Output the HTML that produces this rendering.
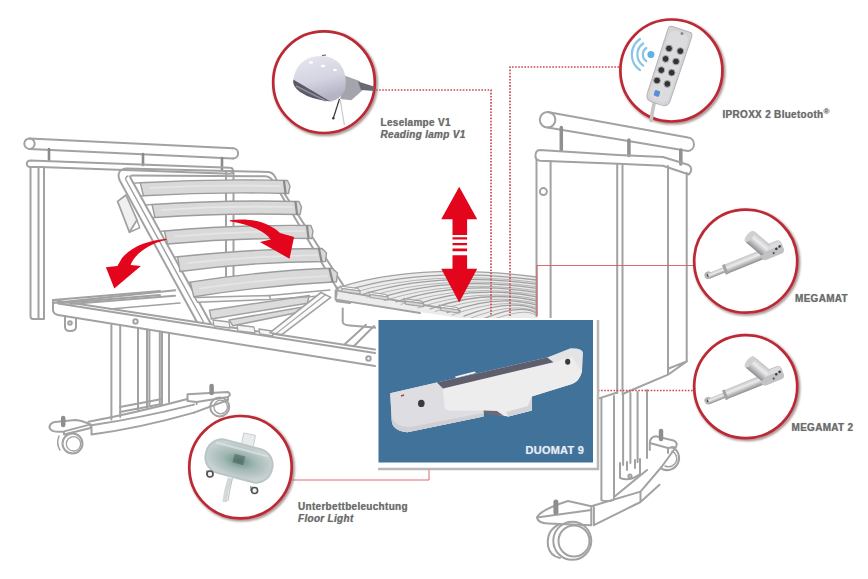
<!DOCTYPE html>
<html><head><meta charset="utf-8">
<style>
html,body{margin:0;padding:0;background:#fff;width:868px;height:579px;overflow:hidden}
svg{position:absolute;left:0;top:0}
.lbl{position:absolute;font-family:"Liberation Sans",sans-serif;font-weight:bold;font-size:10px;letter-spacing:0.3px;color:#6c6c6c;white-space:nowrap;line-height:12px;text-shadow:0 0 0.8px rgba(90,90,90,0.6)}
.it{font-style:italic}
</style></head><body>
<svg width="868" height="579" viewBox="0 0 868 579">
<defs>
<filter id="blur2" x="-20%" y="-20%" width="140%" height="140%"><feGaussianBlur stdDeviation="0.9"/></filter>
<filter id="blur" x="-20%" y="-20%" width="140%" height="140%"><feGaussianBlur stdDeviation="0.45"/></filter>
</defs>
<g id="bed" fill="none" stroke="#a2a2a2" stroke-width="2" filter="url(#blur)" stroke-linejoin="round" stroke-linecap="round">
<!-- HEADBOARD -->
<path d="M29.5 138.5 L233 148.3 M29.5 149 L233 158.5"/>
<circle cx="29.5" cy="143.7" r="5.2"/>
<path d="M233 148.3 A5.1 5.1 0 0 1 233 158.5"/>
<path d="M49 149 V160 M143 154 V165 M222 158 V169" stroke-width="2.6" stroke="#8a8a8a"/>
<path d="M30 160.5 L230 167.8 A3 3 0 0 1 230 173.8 L40 167 M30 160.5 A3.2 3.2 0 0 0 30 167 L40 167"/>
<path d="M30.5 167 V316 Q30.5 319 33 319 H44 V167 M38.5 167 V319"/>
<path d="M226 172 V288 M233.5 172 V288"/>
<!-- bracket left of backrest -->
<path d="M117.6 201.4 L126 195 L137 220 L129.4 232.3 Z" fill="#f0f0f0" stroke-width="1.8"/><path d="M129.4 232.3 L139.7 227.8 L137 220" stroke-width="1.5"/>
<!-- BED FRAME front rail -->
<path d="M53 300 L375 349.5 M58 315 L375 366 M53 300 L53 311 Q54 314 58 315 M58 303.5 L375 353"/>
<circle cx="135.5" cy="321.4" r="2.2"/>
<circle cx="368.5" cy="358.5" r="2.2"/>
<!-- head cross rail (receding) -->
<path d="M53 300 L160 291 M62 303 L160 295"/>
<!-- bracket under frame -->
<path d="M65 316 V327 Q65 331 70 331 Q76 331 76 327 V318"/>
<circle cx="70" cy="323" r="1.8"/>
<!-- LEGS -->
<path d="M111.4 324 V419.5 M120.2 325.5 V417 M138 328 V410 M147 329.5 V408 M149.4 330 V405 M159.8 331.5 V404 M162 332 V403 M169 333 V402"/>
<path d="M120 407 L162 399 M120 412 L162 404"/>
<!-- BASE -->
<path d="M91.5 425.3 Q140 418 194 404.6 M91.5 434.5 Q140 428 194 412.6 M91.5 425.3 V434.5 M88.4 421.8 Q135 413 187.5 399"/>
<path d="M49.4 427 Q50 423 55 422 L75 420 Q80 420 90.6 424.4 L64 431.4 Q50 433 49.4 427 Z M64 431.4 V434.5 L90.6 428 V424.4"/>
<path d="M187.5 394.2 L227.8 392 Q232 394 228 397 L196.7 402 L187.5 401 Z M196.7 402 V404 M228 397 V400 L194 412.6"/>
<circle cx="72.5" cy="443.5" r="10"/>
<circle cx="73.5" cy="443.8" r="7.2" stroke-width="1.3"/>
<path d="M59 436 Q56 444 60 450" stroke-width="1.5"/>
<circle cx="219.7" cy="406.9" r="9.5"/>
<circle cx="220.7" cy="407" r="6.8" stroke-width="1.3"/>
<path d="M63.2 418 V425 M211.6 386 V393" stroke-width="4.5" stroke="#8e8e8e" stroke-linecap="round"/>
<!-- BACKREST frame -->
<path d="M197 322 L119.5 180 Q116 170 126 168.5 L268.9 172 Q275 173 277 182 L345 288"/>
<path d="M211 324 L130.6 178 Q129 175.5 133 175.5 L265.8 176.3 Q271 177 273.5 182 L338 290"/>
<path d="M203.5 322 L126 180 Q125 177 128 176" stroke-width="1.5"/>
<!-- slat holders left -->
<g stroke-width="1.4">
<path d="M133.2 183.3 L140.3 182.8 M140.3 195.7 L143.4 195.7"/>
<path d="M145.2 205.0 L152.0 204.5 M152.4 217.5 L155.0 217.5"/>
<path d="M159.8 231.5 L164.4 231.0 M166.9 244.0 L167.5 244.0"/>
<path d="M174.0 257.3 L177.6 256.8 M182.1 271.5 L180.0 271.5"/>
<path d="M187.9 282.6 L190.3 282.1 M196.0 296.8 L193.8 296.8"/>
</g>
<!-- slats -->
<g fill="#d9d9d9" stroke="#9c9c9c" stroke-width="1.4">
<path d="M140.3 182.8 Q215 178.5 287.5 180.5 L290 186 L288.5 193.5 Q215 191.5 143.4 195.7 Z"/>
<path d="M152 204.5 Q225 199.5 299 201.5 L301.5 207 L300 214.5 Q225 212.5 155 217.5 Z"/>
<path d="M164.4 231 Q240 224.5 310.8 225.5 L313 231 L311.8 238.5 Q240 237.5 167.5 244 Z"/>
<path d="M177.6 256.8 Q255 248.5 322 248.5 L326.5 253 L325.5 261.5 Q255 261.5 180 271.5 Z"/>
<path d="M190.3 282.1 Q265 270.5 332 268.3 L337.5 273 L336.5 281.8 Q265 285.5 193.8 296.8 Z"/>
</g>
<path d="M284 181 L285.5 193 M295.5 202 L297 214 M307 226 L308.5 238 M319 249 L321.5 261 M329.5 269 L332.5 281.5" stroke="#8a8a8a" stroke-width="2.2"/>
<path d="M150 188 Q215 184.5 280 186 M162 210 Q225 205.5 292 207 M175 236.5 Q240 231 304 231 M188 263 Q255 256 317 255 M200 288.5 Q265 279 327 276" stroke="#e6e6e6" stroke-width="1.6"/>
<!-- SEAT area -->
<path d="M53 303 L175.3 290.3 M70.3 304 L175 295.8"/>
<path d="M110 309 L180 303" stroke-width="1.6"/>
<path d="M194.7 297.4 L270 295.5 L270 299.4 L197.6 302.3 Z" fill="#fafafa" stroke-width="1.5"/>
<g fill="#dcdcdc" stroke-width="1.5">
<path d="M209.4 310.2 L309.3 295.5 L307.3 303.3 L211.3 319 Z"/>
<path d="M229 320 L301.4 307.2 L300 312 L232.9 325.8 Z"/>
</g>
<path d="M270 295.5 L330 290 M270 299.4 L320 296" stroke-width="1.4"/>
<g fill="#f6f6f6" stroke-width="1.3">
<path d="M213 320 L229 322 L230 328 L214 326 Z M237 325 L254 327 L255 333 L238 331 Z M259 329 L272 331 L273 336 L260 334 Z"/>
</g>
<!-- knee hinge bars -->
<path d="M321 292.5 L270 332.7 L281.8 334.6 L330.8 297.4 Z" fill="#fbfbfb" stroke-width="1.6"/>
<path d="M325.5 294.8 L276 333.6" stroke-width="1.2"/>
<path d="M366 324.7 L345 344 M374 326 L354 346"/>
<path d="M336.7 287.6 L350 289 M336.7 287.6 V301.3 L350 303"/>
<!-- leg section box under -->
<path d="M342.7 308.5 V322 Q343 325 350 325.5 L380 328" fill="none"/>
<!-- LEG SECTION front beam and slats -->
<path d="M340 287 Q420 262 537 277 L537 318 L460 318 L336 299.7 Z" fill="#ececec" stroke="none"/>
<path d="M340 287 Q420 262 537 277" stroke-width="1.3"/>
<path d="M345.0 291.0 Q425.0 266.0 537 280.0" stroke-width="1.3" stroke="#a0a0a0"/>
<path d="M350.0 293.5 Q430.0 269.0 537 282.4" stroke-width="1" stroke="#b4b4b4"/>
<path d="M362.0 294.6 Q437.0 270.6 537 284.2" stroke-width="1.3" stroke="#a0a0a0"/>
<path d="M367.0 297.1 Q442.0 273.6 537 286.6" stroke-width="1" stroke="#b4b4b4"/>
<path d="M379.0 298.2 Q449.0 275.2 537 288.4" stroke-width="1.3" stroke="#a0a0a0"/>
<path d="M384.0 300.7 Q454.0 278.2 537 290.8" stroke-width="1" stroke="#b4b4b4"/>
<path d="M396.0 301.8 Q461.0 279.8 537 292.6" stroke-width="1.3" stroke="#a0a0a0"/>
<path d="M401.0 304.3 Q466.0 282.8 537 295.0" stroke-width="1" stroke="#b4b4b4"/>
<path d="M413.0 305.4 Q473.0 284.4 537 296.8" stroke-width="1.3" stroke="#a0a0a0"/>
<path d="M418.0 307.9 Q478.0 287.4 537 299.2" stroke-width="1" stroke="#b4b4b4"/>
<path d="M430.0 309.0 Q485.0 289.0 537 301.0" stroke-width="1.3" stroke="#a0a0a0"/>
<path d="M435.0 311.5 Q490.0 292.0 537 303.4" stroke-width="1" stroke="#b4b4b4"/>
<path d="M447.0 312.6 Q497.0 293.6 537 305.2" stroke-width="1.3" stroke="#a0a0a0"/>
<path d="M452.0 315.1 Q502.0 296.6 537 307.6" stroke-width="1" stroke="#b4b4b4"/>
<path d="M464.0 316.2 Q509.0 298.2 537 309.4" stroke-width="1.3" stroke="#a0a0a0"/>
<path d="M469.0 318.7 Q514.0 301.2 537 311.8" stroke-width="1" stroke="#b4b4b4"/>
<path d="M481.0 319.8 Q521.0 302.8 537 313.6" stroke-width="1.3" stroke="#a0a0a0"/>
<path d="M486.0 322.3 Q526.0 305.8 537 316.0" stroke-width="1" stroke="#b4b4b4"/>
<path d="M335.5 290.4 L460 311 M336.3 299.7 L420 313 M335.5 290.4 V299.7" stroke-width="1.8"/>
<g stroke-width="1.2">
<path d="M340 286 L358 288.5 L360 291 L342 288.5 Z" fill="#fafafa"/>
<path d="M342 288.5 L360 291 L360 294 L342 291.5 Z" fill="#d8d8d8"/>
<path d="M368 292 L386 294.5 L388 297 L370 294.5 Z" fill="#fafafa"/>
<path d="M370 294.5 L388 297 L388 300 L370 297.5 Z" fill="#d8d8d8"/>
<path d="M403.5 298.6 L421.5 301.1 L423.5 303.6 L405.5 301.1 Z" fill="#fafafa"/>
<path d="M405.5 301.1 L423.5 303.6 L423.5 306.6 L405.5 304.1 Z" fill="#d8d8d8"/>
<path d="M439 305 L457 307.5 L459 310 L441 307.5 Z" fill="#fafafa"/>
<path d="M441 307.5 L459 310 L459 313 L441 310.5 Z" fill="#d8d8d8"/>
</g>
<!-- FOOTBOARD top tube -->
<path d="M547.6 112 L688 137.5 A6.8 6.8 0 0 1 688 151 L547.6 127.5"/>
<circle cx="547.6" cy="119.7" r="7.8"/>
<path d="M561.3 127.5 V150 M628.9 140 V155.5 M680.8 150 V164" stroke-width="3.5" stroke="#909090"/>
<!-- lower rail -->
<path d="M540 150 L618 155 L663 157 L688 164.7 Q694 168 689 174.5 L663 165.7 L618 163.8 L540 160.8 Q535 160 535.5 155 Q536 150 540 150"/>
<!-- panel verticals -->
<path d="M536.5 160.5 V316 M550.6 161 V398 M617.2 164 V393 M622.5 164 V392 M668 166 V374 M686.7 173 V361"/>
<path d="M598.3 398.6 L617.2 392.5 M622.5 394 L668 374.7 L686.7 361.4 M668 368.7 L686.7 361.4"/>
<circle cx="543.4" cy="191.6" r="3.5"/>
<!-- columns -->
<path d="M601.4 398 V500 Q602 501 608 501 Q614 501 614 498 V396 M623.1 394 V465 M630.4 393 V463 M637.6 392 V462 M647 390 V458"/>
<!-- bracket -->
<path d="M620 463 V478 Q630 482 640 474 V459 M627 462 V470 M635 460 V468"/>
<circle cx="630" cy="476" r="1.6"/>
<!-- base beam -->
<path d="M591.3 506.3 L640.5 491.6 L661.5 467 M593.9 525.2 L640.5 502 L659.5 484.7 M593.9 506 V525.2 M640.5 491.6 V502 M614 497 L647 470"/>
<!-- front pad -->
<path d="M536.9 517.5 Q540 510 568 501 L591.3 506.3 V525.2 M536.9 517.5 Q538 523 548 523.5 L591.3 525.2 M536.9 517.5 L591.3 510"/>
<path d="M555.9 502 V512.3" stroke-width="5" stroke="#8e8e8e"/>
<circle cx="572.3" cy="540.8" r="19"/>
<circle cx="574" cy="541" r="15.5"/>
<path d="M560 524 Q546 530 548 546 Q550 556 560 558"/>
<!-- back pad -->
<path d="M672 447 A12 12 0 1 1 662 469" />
<path d="M672 451 A8 8 0 1 1 665 466" stroke-width="1.5"/>
<path d="M649.8 450 L649.8 443 Q650 437 656 436.3 L674.4 440.8 Q678 443 676 447 L661.5 467 M649.8 443 L668 448 L676 447 M668 448 L668 453"/>
<path d="M661 431 V439" stroke-width="4.5" stroke="#8e8e8e" stroke-linecap="round"/>

</g>
<!-- connector lines -->
<g fill="none" stroke="#c94a52" stroke-width="1.7">
<path d="M376 90 H491 V316" stroke-dasharray="1.6 1.5"/>
<path d="M619 67 H510 V316" stroke-dasharray="1.6 1.5"/>
<path d="M694 265.5 H537 V316" stroke-width="0.9" stroke="#d9585d"/>
<path d="M598 390.5 H694" stroke-dasharray="1.6 1.5"/>
<path d="M292 480 H429 V468" stroke-width="0.9" stroke="#d9585d"/>
</g>
<g fill="#e3051b" stroke="none">
<path d="M166.5 238.8 C150 240 132 246 122 258 L117.4 266.1 L105.9 267.3 L114.3 288.4 L140.9 266.1 L130.6 264.9 C134 256 145 245 166.5 239.8 Z"/>
<path d="M229.9 220.3 C250 217.5 268 222 280 233 L294.1 237 L289.5 258.7 L259.9 242.1 L270.8 239.6 C265 232 252 225 229.9 221.2 Z"/>
<path d="M459.2 186.7 L477.2 219.3 H467.1 V235 H452.5 V219.3 H441.2 Z"/>
<path d="M452.5 237.3 H467.1 V239.6 H452.5 Z M452.5 242.9 H467.1 V245.2 H452.5 Z M452.5 248.5 H467.1 V251.2 H452.5 Z"/>
<path d="M452.5 255.3 H467.1 V268.8 H477.2 L459.2 302.5 L441.2 268.8 H452.5 Z"/>
</g>

<!-- blue box -->
<rect x="376" y="318" width="222" height="150" fill="#fff"/>
<path d="M598 320 V469 H378" stroke="#b8b8b8" stroke-width="2.5" fill="none"/>
<rect x="378.5" y="320" width="214.5" height="142.5" fill="#41729a"/>
<g stroke="none">
<!-- main silhouette -->
<path d="M390.2 393.3 L436.9 382.4 L547.2 357.5 L570.6 348.2 Q583 348 583 353 L582 371.5 Q579 382 572 384 L531.7 396.4 L531.7 410.4 L508.4 416.6 L483.5 413 L483.5 416.6 L407.3 432.2 Q393 431 391.8 421.3 Z" fill="#e4e4e6"/>
<!-- left block front face shade -->
<path d="M390.2 393.3 L436.9 382.4 L443 388.6 L444.6 407.3 Q446 411 450.8 410.4 L483.5 410.4 L483.5 416.6 L407.3 432.2 Q393 431 391.8 421.3 Z" fill="#dedee2"/>
<!-- centre block front face -->
<path d="M443 388.6 L553.5 362.2 L572 357 L582 371.5 Q579 382 572 384 L531.7 396.4 L531.7 410.4 L508.4 416.6 L483.5 410.4 L450.8 410.4 Q446 411 444.6 407.3 Z" fill="#ededee"/>
<path d="M531.7 396.4 L531.7 410.4 L508.4 416.6 L506 412 L528 406 Z" fill="#d4d4d8"/>
<path d="M391.8 421.3 Q393 431 407.3 432.2 L483.5 416.6 L483.5 413 L410 427 Q396 427 391.8 418 Z" fill="#cfcfd4"/>
<!-- dark top strip -->
<path d="M436.9 382.4 L547.2 357.5 L553.5 362.2 L443 388.6 Z" fill="#5e5e6c"/>
<path d="M455 376.5 L474.5 371.5 L476 373 L456 378 Z" fill="#f4f4f4"/>
<path d="M483.5 410.4 L497 411 L504 416 L484 414 Z" fill="#6a6a74"/>
<!-- holes -->
<ellipse cx="421.3" cy="403.4" rx="3.3" ry="3.6" fill="#3a3a3a"/>
<ellipse cx="567.7" cy="361.8" rx="2.6" ry="3" fill="#3a3a3a"/>
<path d="M401 396 L404 395" stroke="#b04040" stroke-width="1.5"/>
</g>

<!-- circles -->
<g fill="none" stroke="#8a6a6a" stroke-width="3.2" opacity="0.75" filter="url(#blur2)">
<circle cx="325.3" cy="83.5" r="51"/>
<circle cx="672.7" cy="71.8" r="51.2"/>
<circle cx="747" cy="262.5" r="51.7"/>
<circle cx="747" cy="387.9" r="51.7"/>
<circle cx="241.8" cy="468.5" r="51.4"/>
</g>
<g fill="#fff" stroke="#bc2935" stroke-width="2.7">
<circle cx="324" cy="82.2" r="50.8"/>
<circle cx="671.4" cy="70.5" r="51"/>
<circle cx="745.7" cy="261.2" r="51.5"/>
<circle cx="745.7" cy="386.6" r="51.5"/>
<circle cx="240.5" cy="467.2" r="51.2"/>
</g>
<defs>
<linearGradient id="dome" x1="0" y1="0" x2="0.3" y2="1">
<stop offset="0" stop-color="#e8e8f2"/><stop offset="0.6" stop-color="#d4d4e2"/><stop offset="1" stop-color="#b4b4c6"/>
</linearGradient>
<linearGradient id="tube" x1="0" y1="0" x2="0" y2="1">
<stop offset="0" stop-color="#c4c4c6"/><stop offset="0.4" stop-color="#ececec"/><stop offset="1" stop-color="#8e8e92"/>
</linearGradient>
<radialGradient id="fl" cx="0.5" cy="0.5" r="0.55">
<stop offset="0" stop-color="#5e8a80"/><stop offset="0.45" stop-color="#9fb6b1"/><stop offset="1" stop-color="#ccd5d5"/>
</radialGradient>
</defs>
<!-- LAMP -->
<g>
<path d="M339.5 98.9 L333.3 118.2" stroke="#3c3c44" stroke-width="1.3"/>
<circle cx="333.3" cy="118.2" r="1.2" fill="#333"/>
<path d="M340.2 100.2 L344.4 125" stroke="#c8c8cc" stroke-width="1.2"/>
<path d="M344.4 75.4 L359.6 80.9 L362.3 90.6 L351.3 100.2 L340.2 98.9 Z" fill="#a4a4ac"/>
<path d="M358 81.5 L374 86.4 L374 91 L361 90 Z" fill="#6a6a72"/>
<path d="M293.3 79.5 Q296 62 312 57 Q330 53 340 64 Q348 74 345 90 Q340 100 330.6 101.5 Z" fill="url(#dome)"/>
<path d="M293.3 79.5 L330.6 101.5 Q312 100 300 92 Q292 86 293.3 79.5 Z" fill="#5a5a66"/>
<path d="M296 86 L326 101" stroke="#8e8e9a" stroke-width="1.5"/>
<ellipse cx="311" cy="62.5" rx="2" ry="1.2" fill="#fff"/>
<ellipse cx="323" cy="66" rx="2.2" ry="1.2" fill="#fff"/>
<ellipse cx="335" cy="70" rx="1.8" ry="1.2" fill="#fff"/>
<path d="M322 55.5 L326 55" stroke="#555" stroke-width="1.2"/>
</g>
<!-- REMOTE -->
<g>
<path d="M654.4 102 Q652 112 651 122" stroke="#c4c4c4" stroke-width="3.5" fill="none"/>
<g transform="translate(668.8 66.5) rotate(18.2)">
<path d="M-10 -39 H10 Q12.5 -39 12.5 -34 L12 32 Q12 39 5 39 H-5 Q-12 39 -12 32 L-12.5 -34 Q-12.5 -39 -10 -39 Z" fill="#d4d4d6" stroke="#b4b4b8" stroke-width="1"/>
<rect x="-10" y="-36" width="20" height="72" rx="6" fill="#dcdcde"/>
</g>
<g fill="#333336" stroke="#b0b0b0" stroke-width="1">
<circle cx="669" cy="48.5" r="3.4"/><circle cx="680.3" cy="51.1" r="3.4"/>
<circle cx="665.6" cy="58.9" r="3.4"/><circle cx="676" cy="61.5" r="3.4"/>
<circle cx="661.3" cy="70.1" r="3.4"/><circle cx="671.7" cy="72.7" r="3.4"/>
<circle cx="657" cy="80.5" r="3.4"/><circle cx="667.3" cy="83.9" r="3.4"/>
</g>
<circle cx="682" cy="33.5" r="1.5" fill="#888"/>
<rect x="654.2" y="90.4" width="5.6" height="6" rx="1.5" fill="#5a8fd6" transform="rotate(18 657 93.4)"/>
<circle cx="650.9" cy="54.6" r="3.5" fill="#5fb2e2"/>
<g fill="none" stroke="#86c4e8" stroke-width="2.2" stroke-linecap="round">
<path d="M646.3 48.0 A8 8 0 0 0 646.3 61.2"/>
<path d="M643.2 43.5 A13.5 13.5 0 0 0 643.2 65.7"/>
<path d="M640.0 39.0 A19 19 0 0 0 640.0 70.2"/>
</g>
</g>
<!-- MEGAMAT actuators -->
<g id="act">
<g transform="translate(745.7 261.2) rotate(-22)">
<circle cx="-40" cy="-1" r="3.8" fill="#b4b4b6"/>
<circle cx="-40" cy="-1" r="1.5" fill="#4a4a4a"/>
<rect x="-40" y="-2.8" width="20" height="5.6" fill="url(#tube)"/>
<rect x="-23" y="-4.8" width="44" height="9.6" rx="1.5" fill="url(#tube)"/>
<rect x="-23.5" y="-5.2" width="3" height="10.4" fill="#a4a4a6"/>
<rect x="16" y="-7.5" width="24" height="14" rx="4" fill="#c2c2c4"/>
<rect x="17" y="-6.5" width="22" height="5" rx="2" fill="#dcdcde"/>
<circle cx="33" cy="0" r="1.3" fill="#3c3c3c"/><circle cx="37" cy="-1" r="1.3" fill="#3c3c3c"/><circle cx="29" cy="3" r="1.1" fill="#505050"/>
</g>
<g transform="translate(758 243.5) rotate(40)">
<rect x="-11" y="-7" width="22" height="14" rx="2" fill="url(#tube)"/>
<ellipse cx="-11" cy="0" rx="3" ry="7" fill="#d0d0d2"/>
</g>
</g>
<use href="#act" transform="translate(0 125.4)"/>
<!-- FLOOR LIGHT -->
<g>
<path d="M230 478 Q226 490 224.6 502" stroke="#d4d8d8" stroke-width="4.5" fill="none"/>
<path d="M232.5 478 Q229.5 490 228 501" stroke="#a8aeae" stroke-width="0.8" fill="none"/>
<g transform="rotate(12 248 442)"><rect x="242" y="434" width="12" height="16" fill="#e8ecec" stroke="#c4c8c8" stroke-width="0.8"/></g>
<g transform="rotate(15 239 461)">
<rect x="204" y="443" width="70" height="36" rx="17" fill="#b9c6c5"/>
<rect x="206" y="445" width="66" height="32" rx="15" fill="url(#fl)" opacity="0.9"/>
<rect x="233" y="455" width="11" height="9" fill="#3e4e4a" opacity="0.45"/>
<path d="M212 449 L266 449" stroke="#dfe6e6" stroke-width="2" opacity="0.7"/>
</g>
<path d="M206 470 L214 472 L213 476 L206 475 Z M250 486 L258 488 L257 493 L250 491 Z" fill="#9aa4a4"/>
<circle cx="210" cy="474" r="3" fill="#f4f4f4" stroke="#505050" stroke-width="1.6"/>
<circle cx="254.6" cy="490.5" r="3" fill="#f4f4f4" stroke="#505050" stroke-width="1.6"/>
</g>

</svg>
<div class="lbl" style="left:380.5px;top:116.5px">Leselampe V1</div>
<div class="lbl it" style="left:380.5px;top:128.5px">Reading lamp V1</div>
<div class="lbl" style="left:722.5px;top:105.5px">IPROXX 2 Bluetooth<sup style="font-size:8px;vertical-align:3.5px;letter-spacing:0">®</sup></div>
<div class="lbl" style="left:795px;top:293.2px">MEGAMAT</div>
<div class="lbl" style="left:791.5px;top:422px">MEGAMAT 2</div>
<div class="lbl" style="left:298px;top:500.5px">Unterbettbeleuchtung</div>
<div class="lbl it" style="left:298px;top:512.5px">Floor Light</div>
<div class="lbl" style="left:525.5px;top:444px;color:#e4ebf3;font-size:11px;letter-spacing:0.25px;text-shadow:0 0 0.8px rgba(220,230,240,0.7)">DUOMAT 9</div>
</body></html>
